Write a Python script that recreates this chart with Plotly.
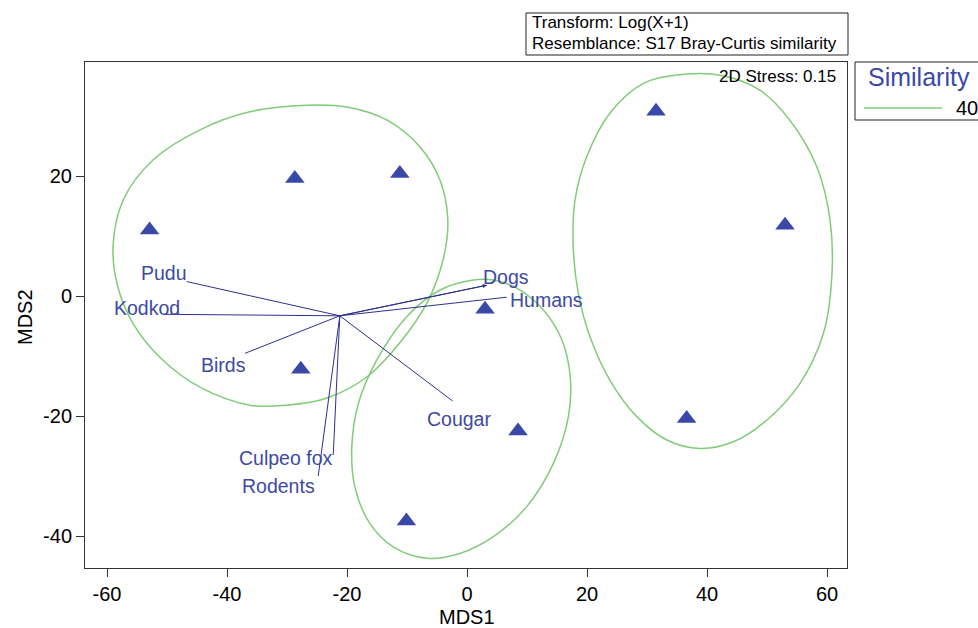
import plotly.graph_objects as go

# nMDS site scores (MDS1, MDS2)
site_x = [-52.9, -28.7, -11.2, -27.7, 3.0, 8.5, -10.1, 31.5, 53.0, 36.6]
site_y = [11.0, 19.6, 20.4, -12.2, -2.2, -22.5, -37.5, 30.8, 11.8, -20.4]

# Species vectors (origin and end points)
vec_origin = (-21.2, -3.3)
vec_names = ["Pudu", "Kodkod", "Birds", "Culpeo fox", "Rodents", "Dogs", "Humans", "Cougar"]
vec_end_x = [-46.7, -50.6, -37.0, -22.3, -24.8, 3.3, 6.6, -2.4]
vec_end_y = [2.4, -3.05, -9.55, -26.5, -30.0, 1.8, -0.2, -17.5]
# Label anchor points (left edge, vertical middle)
lab_x = [-54.7, -59.1, -44.6, -38.3, -37.8, 2.3, 6.8, -7.0]
lab_y = [3.8, -1.95, -11.5, -27.0, -31.7, 3.2, -0.7, -20.55]

# 40% similarity contours
c1_x = [-26.7, -36.2, -44.5, -52.3, -57.3, -59.0, -58.2, -55.7, -51.2, -44.5, -36.2, -30.0,
        -23.3, -16.7, -11.2, -6.7, -4.0, -3.2, -4.5, -7.8, -13.3, -20.0]
c1_y = [31.8, 30.7, 27.7, 22.7, 16.0, 8.2, 1.55, -4.5, -10.2, -15.2, -18.2, -18.2,
        -17.0, -13.5, -7.8, -1.2, 6.0, 12.7, 19.3, 24.8, 29.3, 31.5]
c2_x = [1.05, -4.5, -10.05, -15.05, -18.1, -19.2, -18.7, -16.2, -12.3, -6.7, -1.2, 4.4,
        9.95, 14.4, 16.9, 17.2, 15.8, 12.7, 8.3, 4.4]
c2_y = [2.67, 1.0, -3.45, -10.7, -17.9, -25.1, -31.8, -37.9, -41.8, -43.7, -42.9, -40.1,
        -35.1, -27.9, -20.1, -13.45, -7.3, -2.3, 1.3, 2.67]
c3_x = [36.6, 29.4, 23.8, 19.95, 18.0, 17.7, 18.55, 20.5, 23.8, 28.3, 33.3, 38.8,
        44.4, 49.95, 55.5, 59.4, 60.8, 60.5, 58.3, 53.8, 48.8, 42.7]
c3_y = [37.0, 35.45, 30.45, 23.2, 16.0, 8.2, 0.45, -6.8, -14.0, -20.1, -24.0, -25.4,
        -24.3, -20.7, -14.55, -6.2, 3.2, 12.7, 21.55, 29.3, 34.3, 36.7]

x_ticks = [-60, -40, -20, 0, 20, 40, 60]
x_tick_text = ["-60", "-40", "-20", "0", "20", "40", "60"]
y_ticks = [-40, -20, 0, 20]
y_tick_text = ["-40", "-20", "0", "20"]

FONT = "Liberation Sans, Arial, sans-serif"
GREEN = "#80cc78"
BLUE = "#3a49a8"
NAVY = "#2c3190"
LABEL = "#3d4aa2"

fig = go.Figure()

for cx, cy in [(c1_x, c1_y), (c2_x, c2_y), (c3_x, c3_y)]:
    fig.add_trace(go.Scatter(
        x=cx + cx[:1], y=cy + cy[:1], mode="lines",
        line=dict(color=GREEN, width=1.5, shape="spline", smoothing=1.0),
        hoverinfo="skip", showlegend=False))

for ex, ey in zip(vec_end_x, vec_end_y):
    fig.add_trace(go.Scatter(
        x=[vec_origin[0], ex], y=[vec_origin[1], ey], mode="lines",
        line=dict(color=NAVY, width=1), hoverinfo="skip", showlegend=False))

fig.add_trace(go.Scatter(
    x=site_x, y=site_y, mode="markers",
    marker=dict(symbol="triangle-up", size=17, color=BLUE, line=dict(width=0)),
    showlegend=False))

annotations = []
for name, lx, ly in zip(vec_names, lab_x, lab_y):
    annotations.append(dict(x=lx, y=ly, xref="x", yref="y", text=name, showarrow=False,
                            xanchor="left", yanchor="middle",
                            font=dict(family=FONT, size=19.5, color=LABEL)))

# arrowhead on the Dogs vector
i_dog = vec_names.index("Dogs")
annotations.append(dict(x=vec_end_x[i_dog], y=vec_end_y[i_dog], xref="x", yref="y",
                        ax=vec_origin[0], ay=vec_origin[1], axref="x", ayref="y",
                        text="", showarrow=True, arrowhead=2, arrowsize=0.8,
                        arrowwidth=1, arrowcolor=NAVY, standoff=0))

# plot-area geometry in pixels for placing the boxes
L, R, T, B = 85, 847, 62, 568
W, H = R - L, B - T


def px(x):
    return (x - L) / W


def py(y):
    return (B - y) / H


annotations += [
    dict(x=px(467), y=py(617), xref="paper", yref="paper", text="MDS1",
         showarrow=False, xanchor="center", yanchor="middle",
         font=dict(family=FONT, size=20, color="black")),
    dict(x=px(25), y=py(317), xref="paper", yref="paper", text="MDS2", textangle=-90,
         showarrow=False, xanchor="center", yanchor="middle",
         font=dict(family=FONT, size=20, color="black")),
    dict(x=px(838), y=py(76.5), xref="paper", yref="paper", text="2D Stress: 0.15",
         showarrow=False, xanchor="right", yanchor="middle",
         font=dict(family=FONT, size=17, color="black")),
    dict(x=px(530), y=py(22), xref="paper", yref="paper", text="Transform: Log(X+1)",
         showarrow=False, xanchor="left", yanchor="middle",
         font=dict(family=FONT, size=17, color="black")),
    dict(x=px(530), y=py(43), xref="paper", yref="paper",
         text="Resemblance: S17 Bray-Curtis similarity",
         showarrow=False, xanchor="left", yanchor="middle",
         font=dict(family=FONT, size=17, color="black")),
    dict(x=px(866), y=py(77), xref="paper", yref="paper", text="Similarity",
         showarrow=False, xanchor="left", yanchor="middle",
         font=dict(family=FONT, size=25, color=BLUE)),
    dict(x=px(954), y=py(108), xref="paper", yref="paper", text="40",
         showarrow=False, xanchor="left", yanchor="middle",
         font=dict(family=FONT, size=20, color="black")),
]

shapes = [
    dict(type="rect", xref="paper", yref="paper", x0=px(526), x1=px(848),
         y0=py(55), y1=py(13), line=dict(color="#222", width=1)),
    dict(type="rect", xref="paper", yref="paper", x0=px(855), x1=px(990),
         y0=py(120), y1=py(62), line=dict(color="#222", width=1)),
    dict(type="line", xref="paper", yref="paper", x0=px(864), x1=px(942),
         y0=py(108), y1=py(108), line=dict(color=GREEN, width=1.5)),
]

axis_common = dict(showgrid=False, zeroline=False, showline=True, mirror=True,
                   linecolor="#333", linewidth=1, ticks="outside", ticklen=8,
                   tickcolor="#333", automargin=False,
                   tickfont=dict(family=FONT, size=20, color="black"))

fig.update_layout(
    width=978, height=628,
    margin=dict(l=L, r=978 - R, t=T, b=628 - B),
    paper_bgcolor="white", plot_bgcolor="white",
    xaxis=dict(range=[-63.67, 63.33], tickvals=x_ticks, ticktext=x_tick_text, **axis_common),
    yaxis=dict(range=[-45.33, 39.0], tickvals=y_ticks, ticktext=y_tick_text, **axis_common),
    annotations=annotations, shapes=shapes,
)

fig.write_html("out.html")
